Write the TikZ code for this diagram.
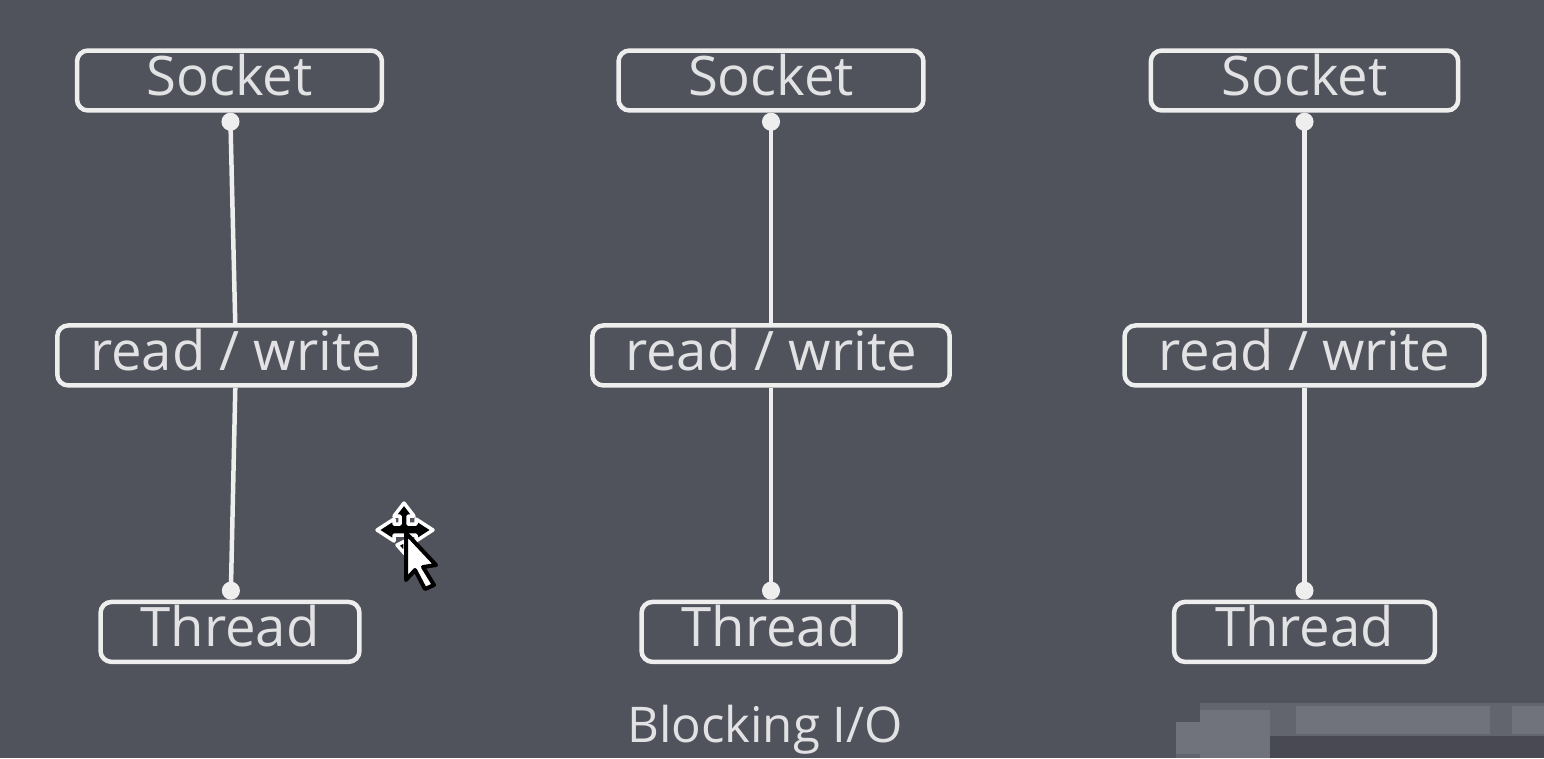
\documentclass[tikz,border=0pt]{standalone}
\usepackage{fontspec}
\setmainfont{Open Sans}
\usetikzlibrary{arrows.meta}
\definecolor{slategrey}{RGB}{80,82,92}
\definecolor{boxwhite}{RGB}{238,238,238}
\definecolor{labelwhite}{RGB}{226,226,228}
\definecolor{smudgelight}{RGB}{112,114,124}
\definecolor{smudgemid}{RGB}{98,100,110}
\definecolor{smudgedark}{RGB}{72,73,82}

\begin{document}
\begin{tikzpicture}[x=0.02cm, y=-0.02cm, node distance=5.5cm]
\tikzstyle{box} = [rectangle, rounded corners=.22cm, minimum height=1.2cm, inner sep=0pt, text height=.62cm, text depth=.02cm, text centered, draw=boxwhite, line width=.09cm, text=labelwhite, font=\fontsize{31}{31}\selectfont]
\tikzstyle{sockbox} = [box, minimum width=6.1cm]
\tikzstyle{rwbox} = [box, minimum width=7.15cm]
\tikzstyle{thrbox} = [box, minimum width=5.18cm]
\tikzstyle{wire} = [draw=boxwhite, line width=.09cm]

\fill[slategrey] (0,0) rectangle (1544,758);

\node (sock1) [sockbox] at (229.5,80.5) {Socket};
\node (rw1) [rwbox, below of=sock1, xshift=.13cm] {read / write};
\node (thr1) [thrbox, below of=rw1, yshift=-.03cm, xshift=-.12cm] {Thread};

\node (sock2) [sockbox] at (771,80.5) {Socket};
\node (rw2) [rwbox, below of=sock2] {read / write};
\node (thr2) [thrbox, below of=rw2, yshift=-.03cm] {Thread};

\node (sock3) [sockbox, minimum width=6.15cm] at (1304.5,80.5) {Socket};
\node (rw3) [rwbox, minimum width=7.2cm, below of=sock3] {read / write};
\node (thr3) [thrbox, minimum width=5.22cm, below of=rw3, yshift=-.03cm] {Thread};

\draw[wire, {Circle[length=.36cm,width=.36cm]}-] (sock1) -- (rw1);
\draw[wire, {Circle[length=.36cm,width=.36cm]}-] (sock2) -- (rw2);
\draw[wire, {Circle[length=.36cm,width=.36cm]}-] (sock3) -- (rw3);
\draw[wire, -{Circle[length=.36cm,width=.36cm]}] (rw1) -- (thr1);
\draw[wire, -{Circle[length=.36cm,width=.36cm]}] (rw2) -- (thr2);
\draw[wire, -{Circle[length=.36cm,width=.36cm]}] (rw3) -- (thr3);

\node (caption) [text=labelwhite, font=\fontsize{28}{28}\selectfont, inner sep=0pt] at (765,730) {Blocking I/O};

% smudged corner
\fill[smudgedark] (1270,736) rectangle (1544,758);
\fill[smudgemid] (1176,722) rectangle (1270,758);
\fill[smudgemid] (1200,703) rectangle (1544,736);
\fill[smudgelight] (1200,710) rectangle (1270,758);
\fill[smudgelight] (1176,722) rectangle (1200,754);
\fill[smudgelight] (1296,706) rectangle (1490,734);
\fill[smudgelight] (1512,706) rectangle (1544,734);

% mouse pointer
\begin{scope}[line join=round]
\draw[white, line width=.07cm, fill=black]
  (404,503) -- (414,516) -- (408,516) -- (408,524) -- (416,524) -- (416,519) -- (433,530) -- (416,541) -- (416,535) -- (394,535) -- (394,541) -- (377,530) -- (394,519) -- (394,524) -- (400,524) -- (400,516) -- (394,516) -- cycle;
\draw[white, line width=.07cm, fill=black] (397,545) -- (405,541) -- (405,554) -- cycle;
\draw[black, line width=.08cm, fill=white]
  (406,533) -- (436,565) -- (423,567) -- (434,585) -- (425,589) -- (415,570) -- (406,580) -- cycle;
\end{scope}
\end{tikzpicture}
\end{document}
